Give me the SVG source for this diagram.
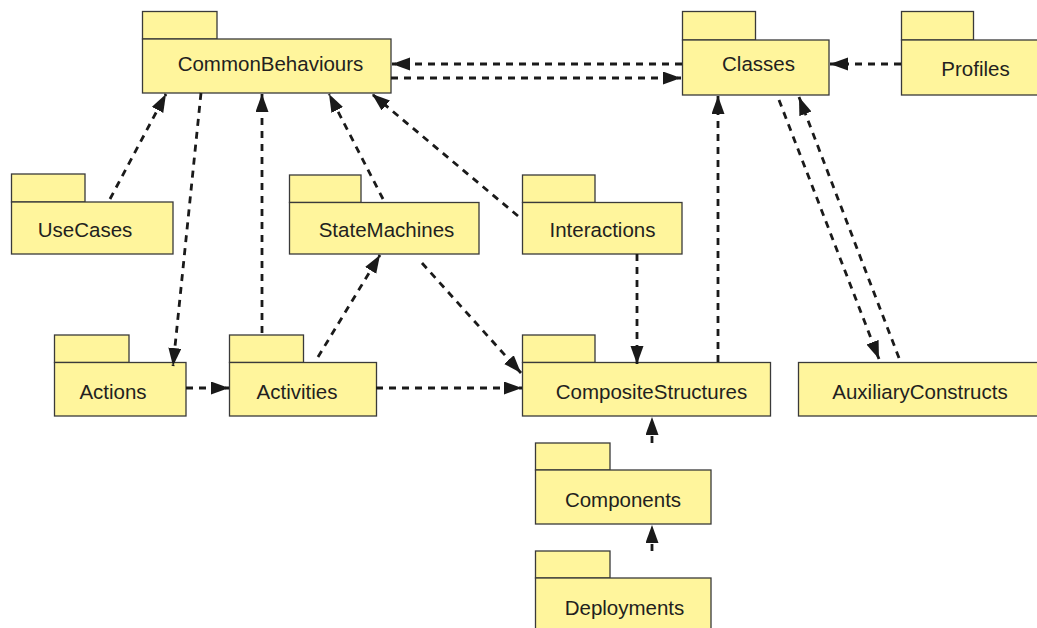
<svg xmlns="http://www.w3.org/2000/svg" width="1037" height="628" viewBox="0 0 1037 628">
  <style>
    .pkg rect { fill: #fff59c; stroke: #3a3a3a; stroke-width: 1.3; }
    .pkg text { font-family: "Liberation Sans", Arial, sans-serif; font-size: 20.5px; fill: #231f20; text-anchor: middle; }
    .dep { fill: none; stroke: #1a1a1a; stroke-width: 2.8; stroke-dasharray: 7 6; marker-end: url(#arrow); }
  </style>
  <defs>
    <marker id="arrow" markerUnits="userSpaceOnUse" markerWidth="19" markerHeight="14" refX="18" refY="6.5" orient="auto">
      <path d="M0,0 L18,6.5 L0,13 Z" fill="#1a1a1a"/>
    </marker>
  </defs>
  <rect width="1037" height="628" fill="#ffffff"/>

  <!-- packages -->
  <g id="CommonBehaviours" class="pkg">
    <rect x="142.5" y="11.5" width="74.5" height="27.5"/>
    <rect x="142.5" y="39" width="248.5" height="54"/>
    <text x="270.5" y="71">CommonBehaviours</text>
  </g>
  <g id="Classes" class="pkg">
    <rect x="682.5" y="11.5" width="73" height="28.5"/>
    <rect x="682.5" y="40" width="146.5" height="55"/>
    <text x="758.5" y="71">Classes</text>
  </g>
  <g id="Profiles" class="pkg">
    <rect x="901.5" y="11.5" width="72" height="28.5"/>
    <rect x="901.5" y="40" width="140" height="55"/>
    <text x="975.5" y="76">Profiles</text>
  </g>
  <g id="UseCases" class="pkg">
    <rect x="11.5" y="174" width="73.5" height="28"/>
    <rect x="11.5" y="202" width="161.5" height="52"/>
    <text x="85" y="237">UseCases</text>
  </g>
  <g id="StateMachines" class="pkg">
    <rect x="289.5" y="175" width="71.5" height="27.5"/>
    <rect x="289.5" y="202.5" width="189.5" height="51.5"/>
    <text x="386.5" y="237">StateMachines</text>
  </g>
  <g id="Interactions" class="pkg">
    <rect x="522.5" y="175" width="72.5" height="27.5"/>
    <rect x="522.5" y="202.5" width="159.5" height="51.5"/>
    <text x="602.5" y="237">Interactions</text>
  </g>
  <g id="Actions" class="pkg">
    <rect x="54.5" y="335" width="74.5" height="27.5"/>
    <rect x="54.5" y="362.5" width="131.5" height="53.5"/>
    <text x="113" y="399">Actions</text>
  </g>
  <g id="Activities" class="pkg">
    <rect x="229.5" y="335" width="74" height="27.5"/>
    <rect x="229.5" y="362.5" width="147" height="53.5"/>
    <text x="297" y="399">Activities</text>
  </g>
  <g id="CompositeStructures" class="pkg">
    <rect x="522.5" y="335" width="72.5" height="27.5"/>
    <rect x="522.5" y="362.5" width="248" height="53.5"/>
    <text x="651.5" y="399">CompositeStructures</text>
  </g>
  <g id="AuxiliaryConstructs" class="pkg">
    <rect x="798.5" y="362.5" width="245" height="53.5"/>
    <text x="920" y="399">AuxiliaryConstructs</text>
  </g>
  <g id="Components" class="pkg">
    <rect x="535.5" y="443" width="74.5" height="27"/>
    <rect x="535.5" y="470" width="175.5" height="54"/>
    <text x="623" y="507">Components</text>
  </g>
  <g id="Deployments" class="pkg">
    <rect x="535.5" y="551" width="74.5" height="27"/>
    <rect x="535.5" y="578" width="175.5" height="62"/>
    <text x="624.5" y="614.5">Deployments</text>
  </g>

  <!-- dependencies -->
  <g id="connectors">
    <path class="dep" d="M682,64 L392,64"/>
    <path class="dep" d="M391,78 L681,78"/>
    <path class="dep" d="M901,64 L830,64"/>
    <path class="dep" d="M110,199 L166,94"/>
    <path class="dep" d="M201,93 L173,366"/>
    <path class="dep" d="M262,333 L262,94"/>
    <path class="dep" d="M383,199 L329,94"/>
    <path class="dep" d="M518,216 L372,94"/>
    <path class="dep" d="M318,357 L380,255"/>
    <path class="dep" d="M422,263 L521,373"/>
    <path class="dep" d="M376,388 L522,388"/>
    <path class="dep" d="M186,388 L229,388"/>
    <path class="dep" d="M637,254 L637,364"/>
    <path class="dep" d="M718,362 L718,96"/>
    <path class="dep" d="M779,100 L879,359"/>
    <path class="dep" d="M899,358 L799,97"/>
    <path class="dep" d="M652,443 L652,417"/>
    <path class="dep" d="M652,551 L652,525"/>
  </g>
</svg>
